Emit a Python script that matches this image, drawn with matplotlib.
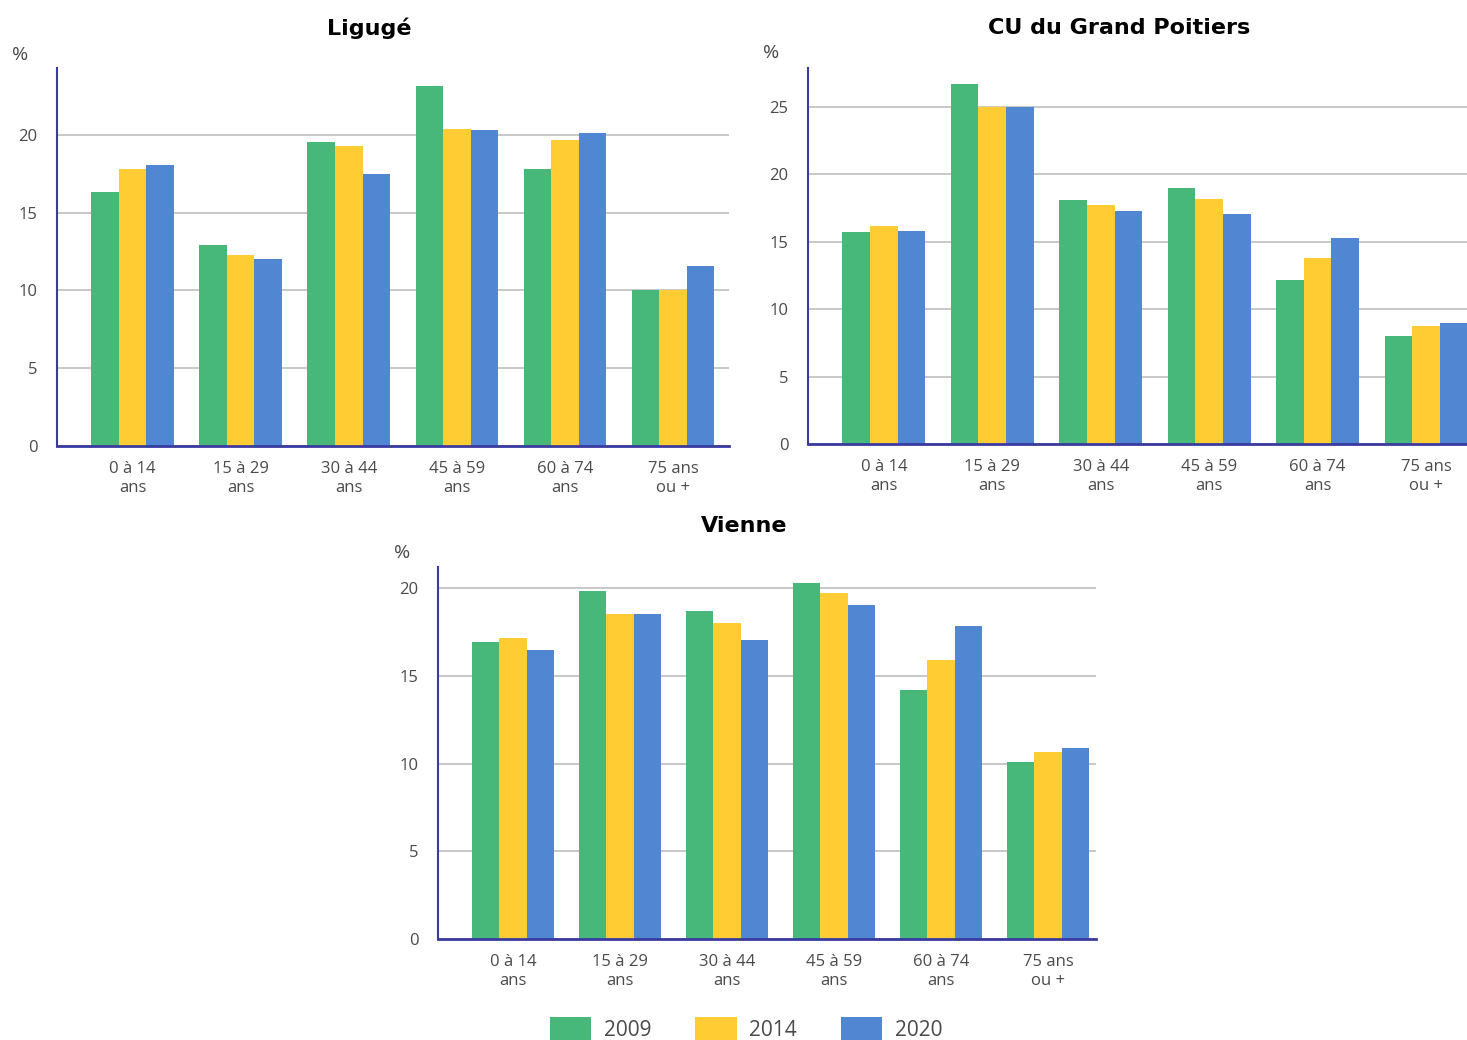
import matplotlib
matplotlib.use("Agg")
import matplotlib.pyplot as plt
import numpy as np

categories = ["0 à 14\nans", "15 à 29\nans", "30 à 44\nans", "45 à 59\nans", "60 à 74\nans", "75 ans\nou +"]
years = ["2009", "2014", "2020"]

ligue_2009 = [16.3, 12.9, 19.55, 23.15, 17.8, 10.0]
ligue_2014 = [17.8, 12.3, 19.3, 20.4, 19.65, 10.05]
ligue_2020 = [18.05, 12.05, 17.5, 20.3, 20.1, 11.6]

cu_2009 = [15.7, 26.7, 18.1, 18.97, 12.17, 8.0]
cu_2014 = [16.2, 25.0, 17.7, 18.2, 13.8, 8.75]
cu_2020 = [15.8, 25.0, 17.3, 17.06, 15.3, 9.0]

vienne_2009 = [16.95, 19.81, 18.67, 20.29, 14.18, 10.09]
vienne_2014 = [17.13, 18.55, 18.0, 19.71, 15.89, 10.67]
vienne_2020 = [16.49, 18.55, 17.05, 19.04, 17.82, 10.86]

colors = ["#48B77A", "#FFCD33", "#5187D2"]
navy = "#3A3AA0"

W, H = 1467, 1040
fig = plt.figure(figsize=(W / 100, H / 100), dpi=100)
plt.rcParams['font.family'] = ['Open Sans', 'DejaVu Sans']


def px_axes(left, right, top, bottom):
    return fig.add_axes([left / W, 1 - bottom / H, (right - left) / W, (bottom - top) / H])


def draw(ax, series, title, ymax, yticks, xr, title_xy, pct_xy):
    x = np.arange(len(categories))
    bw = 0.255
    handles = []
    for i, (vals, c) in enumerate(zip(series, colors)):
        h = ax.bar(x + (i - 1) * bw, vals, width=bw, color=c, label=years[i], zorder=3, linewidth=0)
        handles.append(h)
    ax.set_xlim(-0.70, xr)
    ax.set_ylim(0, ymax)
    ax.set_yticks(yticks)
    ax.set_xticks(x)
    ax.set_xticklabels(categories, fontsize=12, color="#4a4a4a", linespacing=1.25)
    ax.tick_params(axis='y', labelsize=12, labelcolor="#4a4a4a", length=0, pad=14)
    ax.tick_params(axis='x', length=0, pad=11)
    ax.grid(axis='y', color="#c8c8c8", linewidth=1.4, zorder=0)
    for s in ["top", "right"]:
        ax.spines[s].set_visible(False)
    ax.spines["left"].set_color(navy)
    ax.spines["left"].set_linewidth(1.5)
    ax.spines["bottom"].set_color(navy)
    ax.spines["bottom"].set_linewidth(2)
    ax.spines["bottom"].set_zorder(4)
    fig.text(title_xy[0] / W, 1 - title_xy[1] / H, title, ha='center', va='center',
             fontsize=16, fontweight='bold', color='black', family=['DejaVu Sans'])
    fig.text(pct_xy[0] / W, 1 - pct_xy[1] / H, "%", ha='center', va='center',
             fontsize=14, color="#4a4a4a")
    return handles


ax1 = px_axes(57, 729, 68, 446)
handles = draw(ax1, [ligue_2009, ligue_2014, ligue_2020], "Ligugé", 24.3, [0, 5, 10, 15, 20],
               (729 - 133) / 108, (369, 28), (20, 55))

ax2 = px_axes(808, 1467, 68, 444)
draw(ax2, [cu_2009, cu_2014, cu_2020], "CU du Grand Poitiers", 27.9, [0, 5, 10, 15, 20, 25],
     (1467 - 884) / 108.4, (1119, 28), (771, 53))

ax3 = px_axes(438, 1096, 567, 939)
draw(ax3, [vienne_2009, vienne_2014, vienne_2020], "Vienne", 21.2, [0, 5, 10, 15, 20],
     (1096 - 513) / 107, (744, 526), (402, 553))

fig.legend(handles=handles, labels=years, loc='center', ncol=3,
           bbox_to_anchor=(746 / W, 1 - 1029 / H), frameon=False, fontsize=15,
           handlelength=2.0, handleheight=1.4, handletextpad=0.6, columnspacing=2.1,
           labelcolor="#4a4a4a", borderpad=0.0)

fig.savefig("out.png", dpi=100, facecolor='white')
